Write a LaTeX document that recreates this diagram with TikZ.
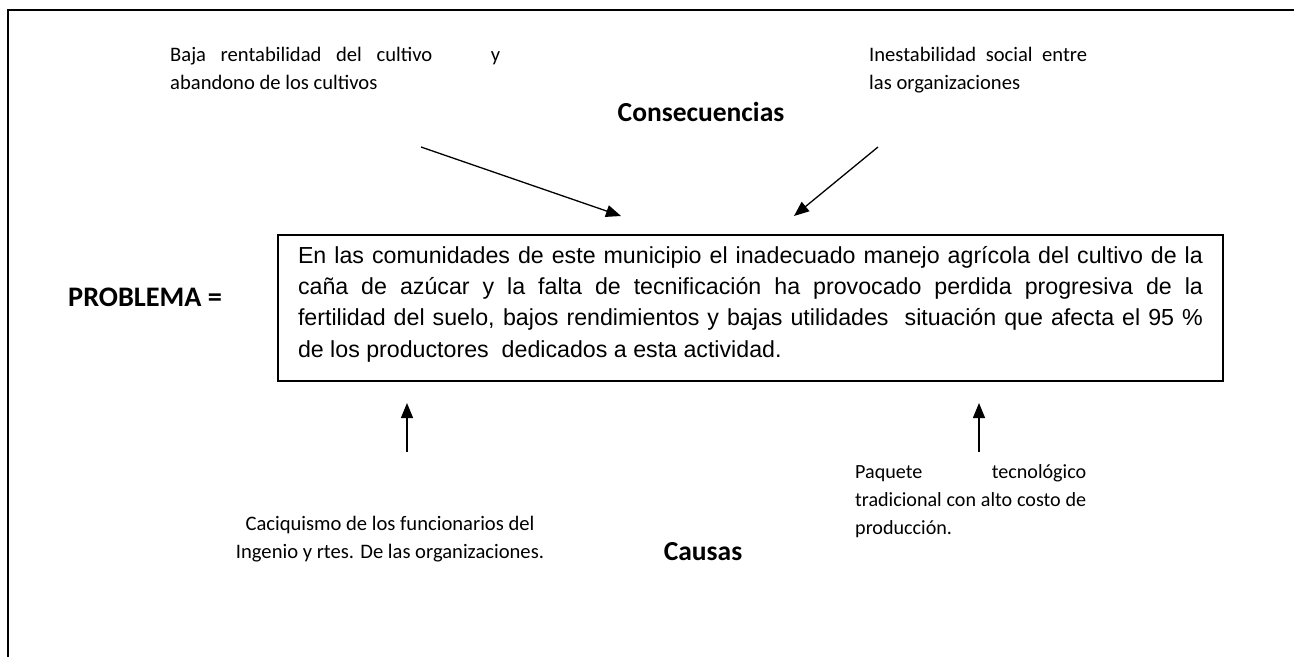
\documentclass[tikz,border=0pt]{standalone}
\usepackage{fontspec}
\setmainfont{Carlito}
\newfontfamily\boxfont{Liberation Sans}
\usetikzlibrary{positioning,arrows.meta}

\tikzset{
  note/.style={inner sep=0pt, align=justify, font=\fontsize{20.6}{28}\selectfont},
  title/.style={inner sep=0pt, font=\fontsize{27.5}{30}\selectfont\bfseries},
  arr/.style={line width=1.3pt, -{Triangle[length=15pt,width=12pt]}}
}

\begin{document}
\begin{tikzpicture}[x=1pt,y=-1pt]
        \useasboundingbox (0,0) rectangle (1294,657);
        \draw[line width=2pt] (1294,10) -- (8,10) -- (8,657);
        % problem box
        \node (prob) [draw, line width=1.2pt, minimum width=945pt, minimum height=146pt,
              inner sep=0pt] at (750.5,308) {};
        \node (probtxt) [text width=905pt, align=justify, inner sep=0pt, anchor=north,
              font=\boxfont\fontsize{23.2}{31.3}\selectfont] at (750.5,246)
              {En las comunidades de este municipio el inadecuado manejo agrícola del cultivo de la\linebreak caña de azúcar y la falta de tecnificación ha provocado perdida progresiva de la\linebreak fertilidad del suelo, bajos rendimientos y bajas utilidades\ \ situación que afecta el 95~\%\linebreak de los productores\ \ dedicados a esta actividad.};
        \node (lbl) [title, anchor=west, font=\fontsize{28.3}{30}\selectfont\bfseries] at (68,297) {PROBLEMA =};
        % consequences
        \node (cons) [title] at (701,112) {Consecuencias};
        \node (c1) [note, text width=330pt, anchor=north west] at (170,47)
              {Baja rentabilidad del cultivo\ \ \ \ y\linebreak abandono de los cultivos};
        \node (c2) [note, text width=218pt, anchor=north west] at (869,47)
              {Inestabilidad social entre\linebreak las organizaciones};
        \coordinate (c1s) at (421,147);
        \coordinate (c1e) at (621,216);
        \coordinate (c2s) at (878,147);
        \coordinate (c2e) at (794,216);
        \draw[arr] (c1s) -- (c1e);
        \draw[arr] (c2s) -- (c2e);
        % causes
        \node (caus) [title] at (703,552) {Causas};
        \node (k1) [note, align=center, anchor=north] at (390,516)
              {Caciquismo de los funcionarios del\\Ingenio y rtes. De las organizaciones.};
        \node (k2) [note, text width=231pt, anchor=north west,
              font=\fontsize{20.1}{28}\selectfont] at (855,464)
              {Paquete tecnológico\linebreak tradicional con alto costo de\linebreak producción.};
        \coordinate (k1s) at (407,452);
        \coordinate (k1e) at (407,403);
        \coordinate (k2s) at (979,452);
        \coordinate (k2e) at (979,403);
        \draw[arr] (k1s) -- (k1e);
        \draw[arr] (k2s) -- (k2e);
\end{tikzpicture}
\end{document}
